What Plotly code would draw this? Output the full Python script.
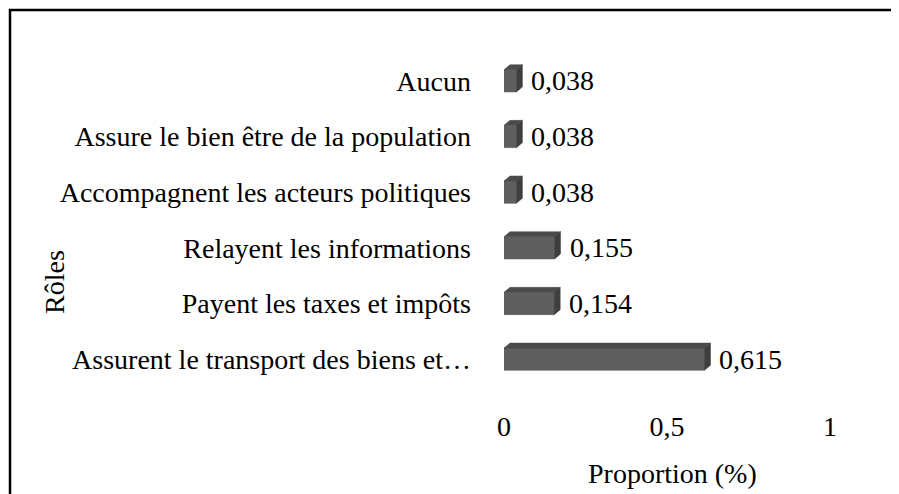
import plotly.graph_objects as go

categories = [
    "Assurent le transport des biens et…",
    "Payent les taxes et impôts",
    "Relayent les informations",
    "Accompagnent les acteurs politiques",
    "Assure le bien être de la population",
    "Aucun",
]
values = [0.615, 0.154, 0.155, 0.038, 0.038, 0.038]
x_ticks = [0, 0.5, 1]
x_tick_labels = ["0", "0,5", "1"]

# page body has an 8px margin; figure is sized so it fills the 899x494 window
OFF = 8
W, H = 899 - OFF, 494 - OFF
ML, MT = 504 - OFF, 53 - OFF
PR, PB = 830 - OFF, 387 - OFF          # plot right / bottom in figure px
MR, MB = W - PR, H - PB
PW, PH = W - ML - MR, H - MT - MB

FONT = "Liberation Serif, Times New Roman, serif"
FS = 28
FRONT, TOP, SIDE = "#5f5f5f", "#4b4b4b", "#3e3e3e"

bar_w = 0.4
dx = 6 / PW          # depth in x data units (range 0..1)
dy = 5 / (PH / 6)    # depth in category units


def px_x(px):
    return (px - OFF - ML) / PW


def px_y(py):
    return (PB - (py - OFF)) / PH


fig = go.Figure()

# 3D top and side faces
for i, v in enumerate(values):
    yt = i + bar_w / 2
    yb = i - bar_w / 2
    fig.add_trace(go.Scatter(
        x=[0, v, v + dx, dx, 0], y=[yt, yt, yt + dy, yt + dy, yt],
        fill="toself", fillcolor=TOP, mode="lines",
        line=dict(color=TOP, width=0.5), hoverinfo="skip", showlegend=False))
    fig.add_trace(go.Scatter(
        x=[v, v + dx, v + dx, v, v], y=[yb, yb + dy, yt + dy, yt, yb],
        fill="toself", fillcolor=SIDE, mode="lines",
        line=dict(color=SIDE, width=0.5), hoverinfo="skip", showlegend=False))

fig.add_trace(go.Bar(
    x=values, y=list(range(len(categories))), orientation="h",
    width=bar_w, marker=dict(color=FRONT, line=dict(color="#555555", width=0.5)),
    showlegend=False, hoverinfo="x+y"))

for i, v in enumerate(values):
    fig.add_annotation(x=v, y=i, xref="x", yref="y", xanchor="left",
                       yanchor="middle", xshift=13, showarrow=False,
                       text=f"{v:.3f}".replace(".", ","),
                       font=dict(family=FONT, size=FS, color="black"))

fig.add_annotation(x=px_x(54), y=px_y(282), xref="paper", yref="paper",
                   text="Rôles", textangle=-90, showarrow=False,
                   xanchor="center", yanchor="middle",
                   font=dict(family=FONT, size=FS, color="black"))
fig.add_annotation(x=px_x(672), y=px_y(473), xref="paper", yref="paper",
                   text="Proportion (%)", showarrow=False,
                   xanchor="center", yanchor="middle",
                   font=dict(family=FONT, size=FS, color="black"))

# outer chart border (continues past the right and bottom edges)
fig.add_shape(type="rect", xref="paper", yref="paper",
              x0=px_x(10), x1=px_x(930), y0=px_y(530), y1=px_y(10),
              line=dict(color="black", width=2.5), fillcolor="rgba(0,0,0,0)")

fig.update_layout(
    width=W, height=H,
    margin=dict(l=ML, r=MR, t=MT, b=MB),
    paper_bgcolor="white", plot_bgcolor="white",
    font=dict(family=FONT, size=FS, color="black"),
    xaxis=dict(range=[0, 1], tickvals=x_ticks, ticktext=x_tick_labels,
               showgrid=False, zeroline=False, showline=False,
               ticks="", ticklabelstandoff=20, fixedrange=True),
    yaxis=dict(range=[-0.5, 5.5], tickvals=list(range(len(categories))),
               ticktext=categories, showgrid=False, zeroline=False,
               showline=False, ticks="", ticklabelstandoff=32, fixedrange=True),
)

fig.write_html("out.html")
